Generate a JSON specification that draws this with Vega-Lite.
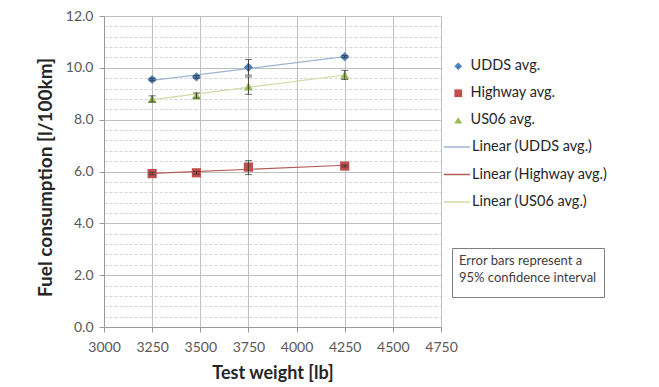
{
  "$schema": "https://vega.github.io/schema/vega-lite/v6.json",
  "width": 337,
  "height": 311,
  "autosize": {"type": "none"},
  "padding": {"left": 104, "top": 16, "right": 218, "bottom": 60},
  "background": "white",
  "config": {
    "font": "Lato",
    "view": {"stroke": null},
    "axis": {"labelFont": "Lato", "titleFont": "Lato"},
    "legend": {"labelFont": "Lato", "titleFont": "Lato"}
  },
  "data": {
    "values": [
      {"series": "UDDS avg.", "trend": "Linear (UDDS avg.)", "weight": 3250, "fc": 9.55, "lo": 9.50, "hi": 9.60, "note": "ci"},
      {"series": "UDDS avg.", "trend": "Linear (UDDS avg.)", "weight": 3480, "fc": 9.65, "lo": 9.60, "hi": 9.70, "note": "ci"},
      {"series": "UDDS avg.", "trend": "Linear (UDDS avg.)", "weight": 3750, "fc": 10.02, "lo": 9.72, "hi": 10.32, "note": "ci"},
      {"series": "UDDS avg.", "trend": "Linear (UDDS avg.)", "weight": 4250, "fc": 10.43, "lo": 10.39, "hi": 10.47, "note": "ci"},
      {"series": "Highway avg.", "trend": "Linear (Highway avg.)", "weight": 3250, "fc": 5.92, "lo": 5.87, "hi": 5.97, "note": "ci"},
      {"series": "Highway avg.", "trend": "Linear (Highway avg.)", "weight": 3480, "fc": 5.95, "lo": 5.90, "hi": 6.00, "note": "ci"},
      {"series": "Highway avg.", "trend": "Linear (Highway avg.)", "weight": 3750, "fc": 6.17, "lo": 5.88, "hi": 6.42, "note": "ci"},
      {"series": "Highway avg.", "trend": "Linear (Highway avg.)", "weight": 4250, "fc": 6.21, "lo": 6.17, "hi": 6.25, "note": "ci"},
      {"series": "US06 avg.", "trend": "Linear (US06 avg.)", "weight": 3250, "fc": 8.80, "lo": 8.68, "hi": 8.92, "note": "ci"},
      {"series": "US06 avg.", "trend": "Linear (US06 avg.)", "weight": 3480, "fc": 8.93, "lo": 8.83, "hi": 9.03, "note": "ci"},
      {"series": "US06 avg.", "trend": "Linear (US06 avg.)", "weight": 3750, "fc": 9.28, "lo": 8.98, "hi": 9.65, "note": "ci"},
      {"series": "US06 avg.", "trend": "Linear (US06 avg.)", "weight": 4250, "fc": 9.72, "lo": 9.55, "hi": 9.90, "note": "ci"}
    ]
  },
  "resolve": {"axis": {"y": "independent"}},
  "layer": [
    {
      "transform": [{"regression": "fc", "on": "weight", "groupby": ["series", "trend"], "extent": [3250, 4250]}],
      "mark": {"type": "line", "strokeWidth": 1.2},
      "encoding": {
        "x": {
          "field": "weight", "type": "quantitative",
          "scale": {"domain": [3000, 4750], "nice": false, "zero": false},
          "axis": {
            "values": [3000, 3250, 3500, 3750, 4000, 4250, 4500, 4750],
            "format": "d", "labelOverlap": false, "labelBound": false, "labelFlush": false,
            "grid": true, "gridColor": "#bfbfbf", "gridWidth": 1,
            "domain": true, "domainColor": "#9a9a9a",
            "ticks": true, "tickSize": 5, "tickColor": "#9a9a9a",
            "labelFontSize": 14, "labelColor": "#595959", "labelPadding": 8,
            "title": "Test weight [lb]", "titleFontSize": 18, "titleFontWeight": "bold",
            "titleColor": "#262626", "titleY": 46, "titleBaseline": "middle"
          }
        },
        "y": {
          "field": "fc", "type": "quantitative",
          "scale": {"domain": [0, 12], "nice": false, "zero": true},
          "axis": {
            "orient": "left",
            "values": [0, 2, 4, 6, 8, 10, 12],
            "format": ".1f", "labelOverlap": false, "labelBound": false, "labelFlush": false,
            "grid": true, "gridColor": "#bfbfbf", "gridWidth": 1,
            "domain": true, "domainColor": "#9a9a9a",
            "ticks": true, "tickSize": 5, "tickColor": "#9a9a9a",
            "labelFontSize": 14, "labelColor": "#595959", "labelPadding": 6,
            "title": "Fuel consumption [l/100km]", "titleFontSize": 19, "titleFontWeight": "bold",
            "titleColor": "#262626", "titleX": -59, "titleY": 161, "titleBaseline": "middle"
          }
        },
        "stroke": {
          "field": "trend", "type": "nominal",
          "scale": {"domain": ["Linear (UDDS avg.)", "Linear (Highway avg.)", "Linear (US06 avg.)"], "range": ["#9db5d3", "#b05a56", "#cfdca6"]},
          "legend": {
            "orient": "none", "legendX": 339, "legendY": 117, "title": null,
            "symbolType": "stroke", "symbolSize": 676, "symbolStrokeWidth": 1.5,
            "labelFontSize": 14.5, "labelColor": "#262626", "labelOffset": 1,
            "rowPadding": 6.5, "padding": 0
          }
        }
      }
    },
    {
      "mark": {"type": "point", "opacity": 0},
      "encoding": {
        "x": {"field": "weight", "type": "quantitative"},
        "y": {
          "field": "fc", "type": "quantitative",
          "axis": {
            "orient": "left",
            "values": [0.4, 0.8, 1.2, 1.6, 2.4, 2.8, 3.2, 3.6, 4.4, 4.8, 5.2, 5.6, 6.4, 6.8, 7.2, 7.6, 8.4, 8.8, 9.2, 9.6, 10.4, 10.8, 11.2, 11.6],
            "grid": true, "gridColor": "#d4d4d4", "gridDash": [3, 2],
            "labels": false, "ticks": false, "domain": false, "title": null
          }
        }
      }
    },
    {
      "mark": {"type": "point", "filled": true, "opacity": 1, "size": 85},
      "encoding": {
        "x": {"field": "weight", "type": "quantitative"},
        "y": {"field": "fc", "type": "quantitative", "axis": null},
        "color": {
          "field": "series", "type": "nominal",
          "scale": {"domain": ["UDDS avg.", "Highway avg.", "US06 avg."], "range": ["#4f81bd", "#c0504d", "#9bbb59"]},
          "legend": {
            "orient": "none", "legendX": 347, "legendY": 43, "title": null,
            "labelFontSize": 14.5, "labelColor": "#262626", "labelOffset": 5,
            "symbolSize": 60, "rowPadding": 12, "padding": 0
          }
        },
        "shape": {
          "field": "series", "type": "nominal",
          "scale": {"domain": ["UDDS avg.", "Highway avg.", "US06 avg."], "range": ["diamond", "square", "triangle-up"]},
          "legend": {
            "orient": "none", "legendX": 347, "legendY": 43, "title": null,
            "labelFontSize": 14.5, "labelColor": "#262626", "labelOffset": 5,
            "symbolSize": 60, "rowPadding": 12, "padding": 0
          }
        }
      }
    },
    {
      "mark": {"type": "rule", "color": "#303030", "strokeWidth": 1},
      "encoding": {
        "x": {"field": "weight", "type": "quantitative"},
        "y": {"field": "lo", "type": "quantitative", "axis": null},
        "y2": {"field": "hi"},
        "strokeDash": {
          "field": "note", "type": "nominal",
          "scale": {"range": [[1, 0]]},
          "legend": {
            "orient": "none", "legendX": 348, "legendY": 232,
            "title": ["Error bars represent a", "95% confidence interval\u00a0\u00a0\u00a0\u00a0"],
            "titleFontSize": 13, "titleFontWeight": "normal", "titleColor": "#404040",
            "titleLineHeight": 17, "titlePadding": 0,
            "labelExpr": "''", "labelFontSize": 0, "symbolSize": 0, "symbolOpacity": 0,
            "strokeColor": "#7f7f7f", "padding": 7, "rowPadding": 0
          }
        }
      }
    },
    {
      "mark": {"type": "tick", "orient": "horizontal", "color": "#303030", "size": 7, "thickness": 1},
      "encoding": {
        "x": {"field": "weight", "type": "quantitative"},
        "y": {"field": "lo", "type": "quantitative", "axis": null}
      }
    },
    {
      "mark": {"type": "tick", "orient": "horizontal", "color": "#303030", "size": 7, "thickness": 1},
      "encoding": {
        "x": {"field": "weight", "type": "quantitative"},
        "y": {"field": "hi", "type": "quantitative", "axis": null}
      }
    }
  ]
}
